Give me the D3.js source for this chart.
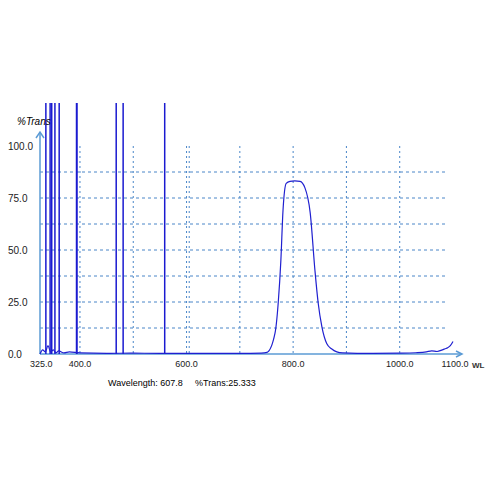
<!DOCTYPE html>
<html><head><meta charset="utf-8">
<script src="https://cdn.jsdelivr.net/npm/d3@7"></script>
<style>body{margin:0;background:#fff}</style></head>
<body><div id="chart"></div>
<script>
// spectrum (nm, %T)
const wl = [325,330,335,340,345,350,355,360,370,380,400,450,500,550,600,650,700,740,751,766,772,777,781,787,794,803,813,822,832,841,847,854,863,872,882,893,920,950,1000,1030,1050,1060,1070,1080,1085,1090,1095,1100];
const trans = [0,2,1,4,1,2,0.5,1.5,0.5,1,0.5,0.3,0.4,0.3,0.3,0.3,0.3,0.4,0.8,10,24.5,45,69,82,83,83.2,83,80,68,40,24.5,13,5,2.5,1,0.5,0.3,0.3,0.4,0.6,1,1.5,1.2,2,2.5,3,4,6];
// saturated spikes (nm)
const spikes = [336,344,347,353,361,394,468,481,559];
const xTicks = [325,400,600,800,1000,1100];
const yTicks = [0,25,50,75,100];
const vGrid = [400,500,600,605,700,800,900,1000];
const hGrid = [12.5,25,37.5,50,62.5,75,87.5];

const svg = d3.select("#chart").append("svg").attr("width",500).attr("height",500);
const x = d3.scaleLinear().domain([325,1100]).range([40,453]);
const y = d3.scaleLinear().domain([0,100]).range([354,146]);
const grid = "#4a86c8";

svg.selectAll(".vg").data(vGrid).enter().append("line")
  .attr("x1",d=>x(d)).attr("x2",d=>x(d)).attr("y1",146).attr("y2",354)
  .attr("stroke",grid).attr("stroke-dasharray","2,3");
svg.selectAll(".hg").data(hGrid).enter().append("line")
  .attr("x1",40).attr("x2",448).attr("y1",d=>y(d)).attr("y2",d=>y(d))
  .attr("stroke",grid).attr("stroke-dasharray","3,3");

// axes
const ax = "#5b9bd5";
svg.append("line").attr("x1",40).attr("x2",462).attr("y1",354).attr("y2",354).attr("stroke",ax).attr("stroke-width",1.5);
svg.append("line").attr("x1",40).attr("x2",40).attr("y1",354).attr("y2",133).attr("stroke",ax).attr("stroke-width",1.5);
svg.append("path").attr("d","M36,138L40,132L44,138").attr("fill","none").attr("stroke",ax).attr("stroke-width",1.5);
svg.append("path").attr("d","M456,351L462,354L456,357").attr("fill","none").attr("stroke",ax).attr("stroke-width",1.5);

// spikes
svg.selectAll(".sp").data(spikes).enter().append("line")
  .attr("x1",d=>x(d)).attr("x2",d=>x(d)).attr("y1",y(0)).attr("y2",103)
  .attr("stroke","#1a1ad0").attr("stroke-width",d=>d==394?2:1.5);

svg.append("path").datum(wl.map((d,i)=>[d,trans[i]]))
  .attr("d",d3.line().x(d=>x(d[0])).y(d=>y(d[1])).curve(d3.curveMonotoneX))
  .attr("fill","none").attr("stroke","#2020d0").attr("stroke-width",1.2);

const f = "Arial, 'Liberation Sans', sans-serif";
svg.selectAll(".yt").data(yTicks).enter().append("text")
  .attr("x",8).attr("y",d=>y(d)+4).text(d=>d.toFixed(1))
  .attr("font-family",f).attr("font-size",10).attr("fill","#222");
svg.selectAll(".xt").data(xTicks).enter().append("text")
  .attr("x",d=>x(d)).attr("y",367).attr("text-anchor",d=>d==325?"start":"middle")
  .attr("dx",d=>d==325?-10:(d==1100?2:0))
  .text(d=>d.toFixed(1)).attr("font-family",f).attr("font-size",9).attr("fill","#222");
svg.append("text").attr("x",17).attr("y",125).text("%Trans").attr("font-family",f)
  .attr("font-style","italic").attr("font-size",10);
svg.append("text").attr("x",472).attr("y",368).text("WL").attr("font-family",f).attr("font-size",8).attr("font-weight","bold").attr("fill","#333");
svg.append("text").attr("x",108).attr("y",386).text("Wavelength: 607.8").attr("font-family",f).attr("font-size",9);
svg.append("text").attr("x",195).attr("y",386).text("%Trans:25.333").attr("font-family",f).attr("font-size",9);
</script></body></html>
